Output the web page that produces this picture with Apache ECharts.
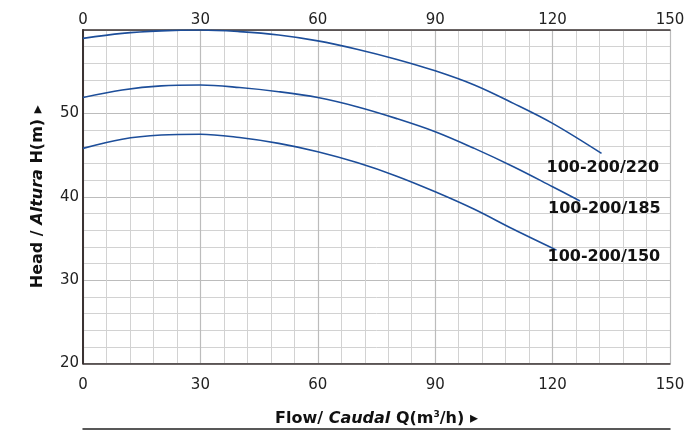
<!DOCTYPE html>
<html><head><meta charset="utf-8">
<script src="https://cdn.jsdelivr.net/npm/echarts@6/dist/echarts.min.js"></script>
<style>html,body{margin:0;padding:0;background:#fff}#c{width:691px;height:432px}</style>
</head><body><div id="c"></div>
<script>
const xTicks = [0, 30, 60, 90, 120, 150];
const yTicks = [20, 30, 40, 50, 60];

const flow220 = [0, 10, 20, 30, 40, 50, 60, 70, 80, 90, 100, 110, 120, 132.5];
const head220 = [59.0, 59.6, 59.9, 60.0, 59.8, 59.4, 58.7, 57.7, 56.5, 55.1, 53.4, 51.2, 48.8, 45.2];

const flow185 = [0, 10, 20, 30, 40, 50, 60, 70, 80, 90, 100, 110, 120, 127];
const head185 = [51.9, 52.8, 53.3, 53.4, 53.1, 52.6, 51.9, 50.8, 49.4, 47.8, 45.8, 43.6, 41.2, 39.5];

const flow150 = [0, 10, 20, 30, 40, 50, 60, 70, 80, 90, 100, 110, 121];
const head150 = [45.8, 46.9, 47.4, 47.5, 47.1, 46.4, 45.4, 44.1, 42.5, 40.6, 38.5, 36.1, 33.6];

const seriesNames = ['100-200/220', '100-200/185', '100-200/150'];

const FONT = 'DejaVu Sans';
const lineColor = '#1d4e9a';
const frameColor = '#3a3232';
const pair = (xs, ys) => xs.map((x, i) => [x, ys[i]]);
const labelOffsets = [[-55, 14], [-32, 8], [-9, 7]];

function mkSeries(name, data, idx) {
  return {
    type: 'line', name, data, smooth: 0.35, symbol: 'none',
    xAxisIndex: 0, yAxisIndex: 0,
    lineStyle: { color: lineColor, width: 1.6 },
    endLabel: {
      show: true, formatter: name, color: '#111', fontFamily: FONT,
      fontWeight: 'bold', fontSize: 16, align: 'left', verticalAlign: 'middle',
      distance: 0, offset: labelOffsets[idx]
    }
  };
}

const chart = echarts.init(document.getElementById('c'), null, { renderer: 'canvas' });
const axisLabelStyle = { color: '#222', fontFamily: FONT, fontSize: 15 };
const frameLine = { show: true, lineStyle: { color: frameColor, width: 1.5 } };
chart.setOption({
  animation: false,
  grid: { left: 83, right: 21, top: 30, bottom: 67, show: false },
  xAxis: [
    {
      type: 'value', position: 'bottom', min: xTicks[0], max: xTicks[xTicks.length - 1], interval: 30,
      axisLine: frameLine, axisTick: { show: false },
      axisLabel: Object.assign({ margin: 14 }, axisLabelStyle),
      splitLine: { show: true, lineStyle: { color: '#bcbcbc', width: 1.2 } },
      minorTick: { show: false, splitNumber: 5 },
      minorSplitLine: { show: true, lineStyle: { color: '#d2d2d2', width: 1 } },
      name: '{b|Flow/ }{i|Caudal}{b| Q(m}{s|3}{b|/h) ▸}', nameLocation: 'middle', nameGap: 47,
      nameTextStyle: {
        rich: {
          b: { fontFamily: FONT, fontWeight: 'bold', fontSize: 16, color: '#111' },
          i: { fontFamily: FONT, fontWeight: 'bold', fontStyle: 'italic', fontSize: 16, color: '#111' },
          s: { fontFamily: FONT, fontWeight: 'bold', fontSize: 9, color: '#111', verticalAlign: 'top', padding: [0, 0, 8, 0] }
        }
      }
    },
    {
      type: 'value', position: 'top', min: xTicks[0], max: xTicks[xTicks.length - 1], interval: 30,
      axisLine: frameLine, axisTick: { show: false },
      axisLabel: Object.assign({ margin: 2 }, axisLabelStyle),
      splitLine: { show: false }
    },
    {
      type: 'value', position: 'bottom', offset: 65, min: xTicks[0], max: xTicks[xTicks.length - 1],
      axisLine: { show: true, lineStyle: { color: '#222', width: 1.5 } }, axisTick: { show: false },
      axisLabel: { show: false }, splitLine: { show: false }
    }
  ],
  yAxis: [
    {
      type: 'value', position: 'left', min: yTicks[0], max: yTicks[yTicks.length - 1], interval: 10,
      axisLine: frameLine, axisTick: { show: false },
      axisLabel: Object.assign({ margin: 4, showMaxLabel: false }, axisLabelStyle),
      splitLine: { show: true, lineStyle: { color: '#bcbcbc', width: 1.2 } },
      minorTick: { show: false, splitNumber: 5 },
      minorSplitLine: { show: true, lineStyle: { color: '#d2d2d2', width: 1 } },
      name: '{b|Head / }{i|Altura}{b| H(m) ▸}', nameLocation: 'middle', nameGap: 37,
      nameTextStyle: {
        rich: {
          b: { fontFamily: FONT, fontWeight: 'bold', fontSize: 16, color: '#111' },
          i: { fontFamily: FONT, fontWeight: 'bold', fontStyle: 'italic', fontSize: 16, color: '#111' }
        }
      }
    },
    {
      type: 'value', position: 'left', offset: 56, min: yTicks[0], max: yTicks[yTicks.length - 1],
      axisLine: frameLine, axisTick: { show: false },
      axisLabel: { show: false }, splitLine: { show: false }
    },
    {
      type: 'value', position: 'right', min: yTicks[0], max: yTicks[yTicks.length - 1],
      axisLine: frameLine, axisTick: { show: false },
      axisLabel: { show: false }, splitLine: { show: false }
    }
  ],
  series: [
    mkSeries(seriesNames[0], pair(flow220, head220), 0),
    mkSeries(seriesNames[1], pair(flow185, head185), 1),
    mkSeries(seriesNames[2], pair(flow150, head150), 2)
  ]
});
</script></body></html>
